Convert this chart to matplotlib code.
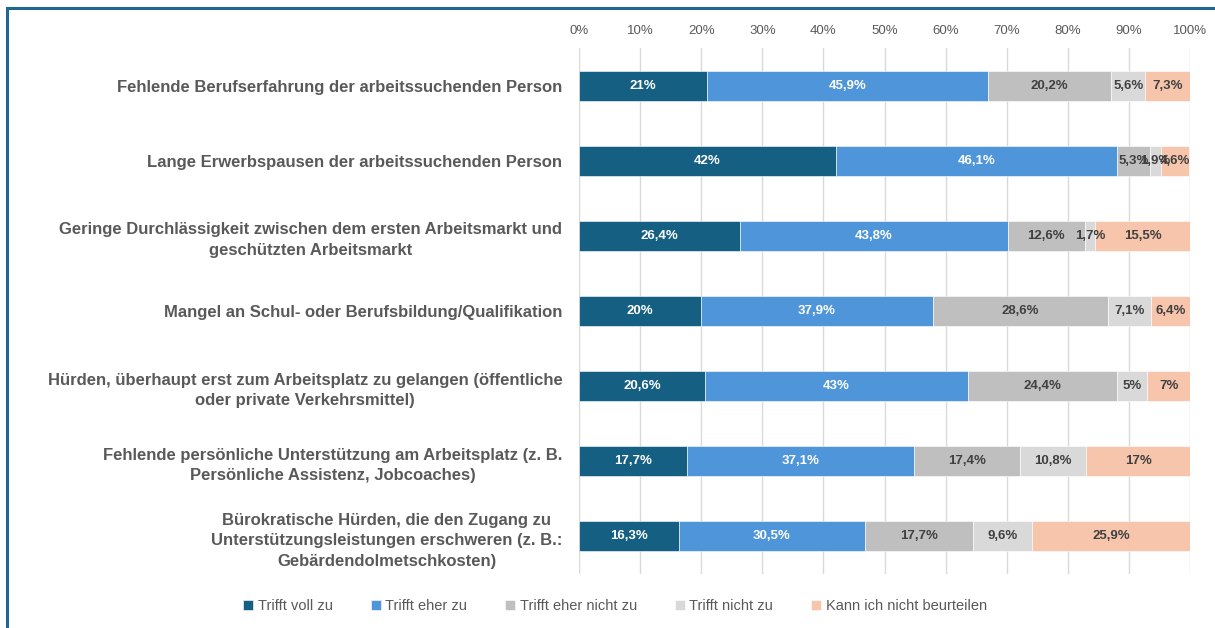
import numpy as np
import matplotlib.pyplot as plt
from matplotlib.patches import Rectangle

plt.rcParams['font.family'] = ['Liberation Sans', 'DejaVu Sans']

categories = [
    "Fehlende Berufserfahrung der arbeitssuchenden Person",
    "Lange Erwerbspausen der arbeitssuchenden Person",
    "Geringe Durchlässigkeit zwischen dem ersten Arbeitsmarkt und\ngeschützten Arbeitsmarkt",
    "Mangel an Schul- oder Berufsbildung/Qualifikation",
    "Hürden, überhaupt erst zum Arbeitsplatz zu gelangen (öffentliche\noder private Verkehrsmittel)",
    "Fehlende persönliche Unterstützung am Arbeitsplatz (z. B.\nPersönliche Assistenz, Jobcoaches)",
    "Bürokratische Hürden, die den Zugang zu\nUnterstützungsleistungen erschweren (z. B.:\nGebärdendolmetschkosten)",
]
series = ["Trifft voll zu", "Trifft eher zu", "Trifft eher nicht zu",
          "Trifft nicht zu", "Kann ich nicht beurteilen"]
voll = [21, 42, 26.4, 20, 20.6, 17.7, 16.3]
eher = [45.9, 46.1, 43.8, 37.9, 43, 37.1, 30.5]
eher_nicht = [20.2, 5.3, 12.6, 28.6, 24.4, 17.4, 17.7]
nicht = [5.6, 1.9, 1.7, 7.1, 5, 10.8, 9.6]
kann_nicht = [7.3, 4.6, 15.5, 6.4, 7, 17, 25.9]

colors = ["#156082", "#4e95d9", "#bfbfbf", "#d9d9d9", "#f6c5ac"]
text_colors = ["white", "white", "#404040", "#404040", "#404040"]

fig = plt.figure(figsize=(12.15, 6.28), dpi=100)
ax = fig.add_axes([579 / 1215, 1 - 574 / 628, 611 / 1215, 526 / 628])

# frame around the whole chart (only top and left visible)
fig.patches.append(Rectangle((6.5 / 1215, -0.1), 1.2, 1 - 7.5 / 628 + 0.1,
                             transform=fig.transFigure, fill=False,
                             edgecolor="#1f6890", linewidth=2.2))

y = np.arange(len(categories))
data = [voll, eher, eher_nicht, nicht, kann_nicht]
left = np.zeros(len(categories))
for vals, name, c, tc in zip(data, series, colors, text_colors):
    vals = np.array(vals)
    bars = ax.barh(y, vals, left=left, height=0.4, color=c, label=name,
                   edgecolor="white", linewidth=0.4, zorder=3)
    for b, v in zip(bars, vals):
        lab = f"{v:g}".replace(".", ",") + "%"
        ax.text(b.get_x() + b.get_width() / 2, b.get_y() + b.get_height() / 2,
                lab, ha="center", va="center", color=tc, fontsize=9.5,
                fontweight="bold", zorder=4)
    left += vals

ax.set_xlim(0, 100)
ax.set_ylim(len(categories) - 0.5, -0.5)
ax.set_xticks(np.arange(0, 101, 10))
ax.set_xticklabels([f"{t}%" for t in range(0, 101, 10)])
ax.xaxis.tick_top()
ax.tick_params(axis="x", length=0, pad=8, labelsize=9.5, labelcolor="#595959")
ax.grid(axis="x", color="#d9d9d9", linewidth=1, zorder=0)
ax.set_yticks(y)
ax.set_yticklabels(categories, fontsize=12, fontweight="bold", color="#595959",
                   ha="right", multialignment="center", linespacing=1.45)
ax.tick_params(axis="y", length=0, pad=12)
for s in ax.spines.values():
    s.set_visible(False)

ax.legend(loc="center", bbox_to_anchor=(615 / 1215, 1 - 606 / 628),
          bbox_transform=fig.transFigure, ncol=5, frameon=False,
          fontsize=10.5, handlelength=0.7, handleheight=0.7,
          handletextpad=0.3, columnspacing=2.6, labelcolor="#595959")

plt.savefig("out.png", dpi=100)
